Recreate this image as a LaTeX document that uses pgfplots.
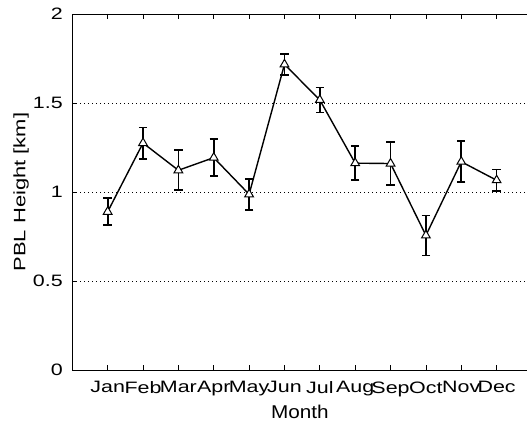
\documentclass[border=0pt]{standalone}
\usepackage{fontspec}
\setmainfont{Liberation Sans}
\usepackage{graphicx}
\usepackage{pgfplots}
\pgfplotsset{compat=1.18}
\usepackage{pgfplotstable}

% wide, loose text like the screen font of the original
\newcommand\wide[1]{\scalebox{1.3}[1]{#1}}

% monthly mean PBL height and error
\pgfplotstableread{
x  y      e
1  0.889  0.076
2  1.275  0.088
3  1.122  0.112
4  1.193  0.103
5  0.987  0.087
6  1.717  0.060
7  1.517  0.070
8  1.162  0.095
9  1.160  0.120
10 0.756  0.112
11 1.170  0.115
12 1.066  0.060
}\pblheight

\begin{document}
\begin{tikzpicture}
\begin{axis}[
    scale only axis,
    width=459.7pt, height=356pt,
    xmin=0, xmax=13,
    ymin=0, ymax=2,
    xtick={1,...,12},
    xticklabels={\wide{Jan},\wide{Feb},\wide{Mar},\wide{Apr},\wide{May},\wide{Jun},
        \wide{Jul},\wide{Aug},\wide{Sep},\wide{Oct},\wide{Nov},\wide{Dec}},
    ytick={0,0.5,1,1.5,2},
    yticklabels={\wide{0},\wide{0.5},\wide{1},\wide{1.5},\wide{2}},
    tick align=inside,
    major tick length=5pt,
    tick style={black, line width=0.8pt},
    axis line style={line width=0.8pt},
    ymajorgrids,
    grid style={black, line width=0.6pt, dash pattern=on 0.8pt off 3.2pt},
    ticklabel style={font=\fontsize{16.5}{16.5}\selectfont},
    xticklabel shift=8pt,
    yticklabel shift=6pt,
    xlabel={\scalebox{1.12}[1]{Month}},
    ylabel={\scalebox{1.33}[1]{PBL Height [km]}},
    xlabel style={font=\fontsize{18.5}{18.5}\selectfont, at={(axis description cs:0.495,-0.137)}, anchor=base},
    ylabel style={font=\fontsize{16.5}{16.5}\selectfont, at={(axis description cs:-0.087,0.5)}, anchor=south},
]
\addplot[black, line width=1.4pt, mark=triangle*, mark size=5pt,
    mark options={fill=white, line width=1pt, solid},
    error bars/.cd, y dir=both, y explicit,
    error bar style={line width=1.7pt},
    error mark=-,
    error mark options={rotate=90, line width=1.7pt, mark size=4.2pt}]
    table[x=x, y=y, y error=e] {\pblheight};
\end{axis}
\pgfresetboundingbox
\path[use as bounding box] ([xshift=-72.3pt,yshift=-52pt]current axis.south west)
    rectangle ([xshift=454.7pt,yshift=14pt]current axis.north west);
\end{tikzpicture}
\end{document}
